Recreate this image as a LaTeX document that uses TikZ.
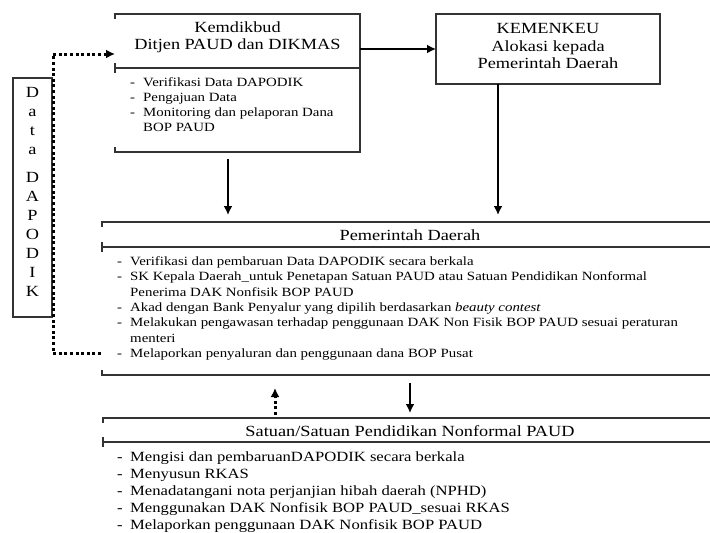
\documentclass[tikz,border=0pt]{standalone}
\usepackage{fontspec}
\setmainfont{Liberation Serif}[FakeStretch=1.18]
\usetikzlibrary{arrows.meta}

\tikzset{
	frame/.style={line width=1.2pt, black!80},
	flow/.style={->, line width=2.3pt},
	dots/.style={->, line width=3pt, dash pattern=on 3pt off 2.6pt},
	heading/.style={font=\fontsize{15.5}{17.5}\selectfont, align=center, inner sep=0pt},
	items/.style={font=\fontsize{12.6}{15.3}\selectfont, align=left, anchor=north west, inner sep=0pt},
	bigitems/.style={font=\fontsize{14.1}{17}\selectfont, align=left, anchor=north west, inner sep=0pt},
	area/.style={inner sep=0pt, outer sep=0pt},
}
\newcommand{\itm}[1]{\makebox[13pt][l]{-}#1}
\newcommand{\cont}[1]{\hspace*{13pt}#1}

\begin{document}
\begin{tikzpicture}[x=1pt, y=-1pt, >={Latex[length=9pt, width=9pt]}]
		\useasboundingbox (0,0) rectangle (710,533);
		
		% boxes
		\node[area, minimum width=245, minimum height=138] (kemdik) at (237.5,83) {};
		\node[area, draw, frame, minimum width=224, minimum height=70] (kemenkeu) at (548,49) {};
		\node[area, minimum width=608, minimum height=153] (pemda) at (406,298.5) {};
		\node[area, minimum width=607, minimum height=130] (satuan) at (406.5,483) {};
		\node[area, draw, frame, minimum width=39, minimum height=239] (dapodik) at (32.5,197.5) {};
		
		% kemdikbud outline
		\draw[frame] ([shift={(0,5)}]kemdik.north west) -- (kemdik.north west) -- (kemdik.north east) -- (kemdik.south east) -- (kemdik.south west) -- ++(0,-5);
		\draw[frame] (115,63) -- (115,73) (115,68) -- (360,68);
		% pemerintah outline
		\draw[frame] ([shift={(0,5)}]pemda.north west) -- (pemda.north west) -- (pemda.north east);
		\draw[frame] (102,242) -- (102,252) (102,247) -- (710,247);
		\draw[frame] ([shift={(0,-5)}]pemda.south west) -- (pemda.south west) -- (pemda.south east);
		% satuan outline
		\draw[frame] ([shift={(0,5)}]satuan.north west) -- (satuan.north west) -- (satuan.north east);
		\draw[frame] (103,437) -- (103,447) (103,442) -- (710,442);
		
		% headings
		\node[heading] (kemdiktitle) at (237.5,37.5) {Kemdikbud\\Ditjen PAUD dan DIKMAS};
		\node[heading] (kemenkeutitle) at (548,46) {KEMENKEU\\Alokasi kepada\\Pemerintah Daerah};
		\node[heading] (pemdatitle) at (410,235) {Pemerintah Daerah};
		\node[heading] (satuantitle) at (410,431) {Satuan/Satuan Pendidikan Nonformal PAUD};
		\node[heading, font=\fontsize{15.5}{19}\selectfont] (dapodiktext) at (32.5,191.5)
			{D\\a\\t\\a\\[9pt]D\\A\\P\\O\\D\\I\\K};
		
		% tasks
		\node[items] (kemdikitems) at (130,77) {%
			\itm{Verifikasi Data DAPODIK}\\
			\itm{Pengajuan Data}\\
			\itm{Monitoring dan pelaporan Dana}\\
			\cont{BOP PAUD}};
		\node[items] (pemdaitems) at (117,256.5) {%
			\itm{Verifikasi dan pembaruan Data DAPODIK secara berkala}\\
			\itm{SK Kepala Daerah\_untuk Penetapan Satuan PAUD atau Satuan Pendidikan Nonformal}\\
			\cont{Penerima DAK Nonfisik BOP PAUD}\\
			\itm{Akad dengan Bank Penyalur yang dipilih berdasarkan \textit{beauty contest}}\\
			\itm{Melakukan pengawasan terhadap penggunaan DAK Non Fisik BOP PAUD sesuai peraturan}\\
			\cont{menteri}\\
			\itm{Melaporkan penyaluran dan penggunaan dana BOP Pusat}};
		\node[bigitems] (satuanitems) at (117,452) {%
			\itm{Mengisi dan pembaruanDAPODIK secara berkala}\\
			\itm{Menyusun RKAS}\\
			\itm{Menadatangani nota perjanjian hibah daerah (NPHD)}\\
			\itm{Menggunakan DAK Nonfisik BOP PAUD\_sesuai RKAS}\\
			\itm{Melaporkan penggunaan DAK Nonfisik BOP PAUD}};
		
		% flows
		\draw[flow, line width=2pt] (kemdik.east |- kemenkeu.west) -- (kemenkeu.west);
		\draw[flow] ([shift={(-9.5,7)}]kemdik.south) -- ([shift={(-9.5,-7)}]kemdik.south |- pemda.north);
		\draw[flow] ([shift={(-50,0)}]kemenkeu.south) -- ([shift={(-50,-7)}]kemenkeu.south |- pemda.north);
		\draw[flow, line width=2pt] ([shift={(4,8)}]pemda.south) -- ([shift={(4,-5)}]pemda.south |- satuan.north);
		\draw[dots] ([shift={(-131.5,-3)}]satuan.north) -- ([shift={(-131.5,13)}]satuan.north |- pemda.south);
		
		% data dapodik loop
		\coordinate (lapor) at (101,353);
		\coordinate (kemdikin) at ([shift={(0,-29)}]kemdik.west);
		\draw[dots] (lapor) -- ([xshift=1pt]dapodik.east |- lapor) -- ([xshift=1pt]dapodik.east |- kemdikin) -- (kemdikin);
	\end{tikzpicture}
\end{document}
